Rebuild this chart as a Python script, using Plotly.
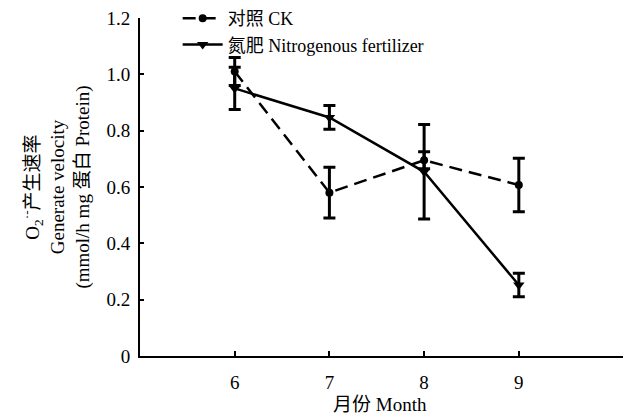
import plotly.graph_objects as go

months = [6, 7, 8, 9]
ck = [1.01, 0.58, 0.695, 0.607]
ck_err = [0.05, 0.09, 0.03, 0.095]
n = [0.95, 0.847, 0.654, 0.252]
n_err = [0.075, 0.042, 0.168, 0.042]
yticks = [0, 0.2, 0.4, 0.6, 0.8, 1.0, 1.2]
ytext = ["0", "0.2", "0.4", "0.6", "0.8", "1.0", "1.2"]

serif = "Liberation Serif, Noto Sans CJK SC, serif"

fig = go.Figure()
fig.add_trace(go.Scatter(
    x=months, y=ck, name="对照 CK", mode="lines+markers",
    line=dict(color="black", width=2.5, dash="13px,7px"),
    marker=dict(symbol="circle", size=8, color="black"),
    error_y=dict(type="data", array=ck_err, color="black", thickness=3, width=6),
))
fig.add_trace(go.Scatter(
    x=months, y=n, name="氮肥 Nitrogenous fertilizer", mode="lines+markers",
    line=dict(color="black", width=2.5),
    marker=dict(symbol="triangle-down", size=10, color="black"),
    error_y=dict(type="data", array=n_err, color="black", thickness=3, width=6),
))

fig.update_layout(
    width=623, height=415,
    margin=dict(l=140, r=0, t=0, b=59),
    paper_bgcolor="white", plot_bgcolor="white",
    font=dict(family=serif, size=19, color="black"),
    showlegend=True,
    legend=dict(x=0.078, y=1.0, xanchor="left", yanchor="top",
                bgcolor="rgba(0,0,0,0)", font=dict(size=18, family=serif),
                tracegroupgap=0, itemwidth=40),
    xaxis=dict(range=[5, 10.1], tickvals=months, ticks="inside", ticklen=5,
               tickwidth=2, tickcolor="black", showline=True, linewidth=2,
               linecolor="black", showgrid=False, zeroline=False,
               automargin=False, ticklabelstandoff=8),
    yaxis=dict(range=[0, 1.2], domain=[0, 0.9494], tickvals=yticks, ticktext=ytext,
               ticks="inside", ticklen=4, tickwidth=2, tickcolor="black",
               showline=True, linewidth=2, linecolor="black", showgrid=False,
               zeroline=False, automargin=False, ticklabelstandoff=4,
               title=dict(text="O<sub>2</sub><sup>·-</sup>产生速率<br>Generate velocity<br>(mmol/h mg 蛋白 Protein)",
                          standoff=12, font=dict(size=19, family=serif))),
    annotations=[dict(text="月份 Month", xref="paper", yref="paper",
                      x=0.497, y=-0.1376, xanchor="center", yanchor="middle",
                      showarrow=False, font=dict(size=19, family=serif))],
)

fig.write_html("out.html", config={"displayModeBar": False},
               post_script="document.body.style.margin='0px';document.body.style.overflow='hidden';")
